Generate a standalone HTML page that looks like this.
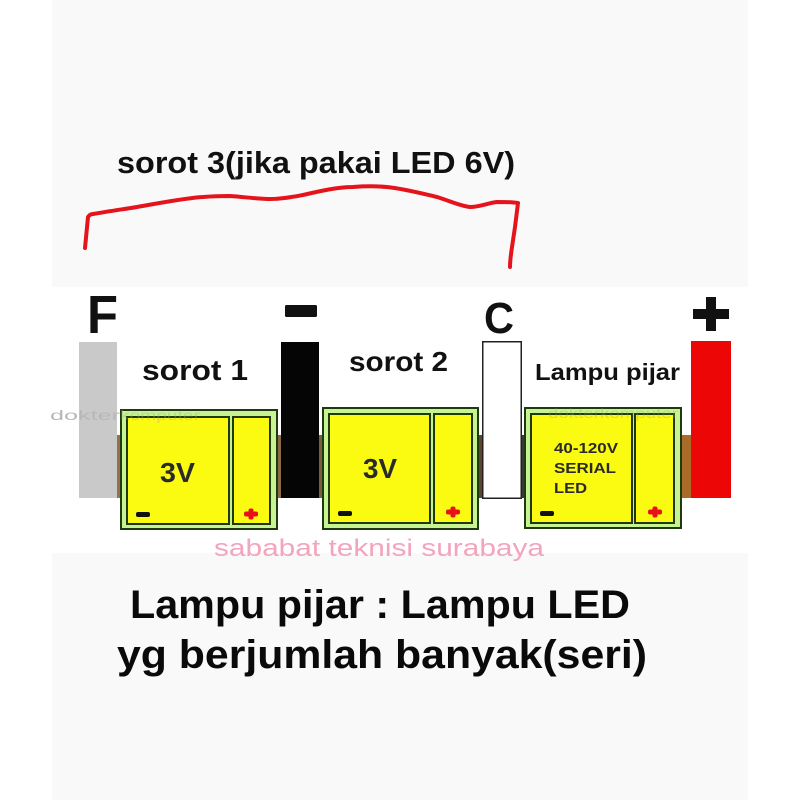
<!DOCTYPE html>
<html>
<head>
<meta charset="utf-8">
<style>
  html, body { margin: 0; padding: 0; background: #ffffff; }
  body { width: 800px; height: 800px; overflow: hidden; }
  svg { display: block; }
  text { font-family: "Liberation Sans", Arial, sans-serif; }
</style>
</head>
<body>
<svg width="800" height="800" viewBox="0 0 800 800" xmlns="http://www.w3.org/2000/svg">
  <!-- backgrounds -->
  <rect x="0" y="0" width="800" height="800" fill="#ffffff"/>
  <rect x="52" y="0" width="696" height="800" fill="#f9f9f9"/>
  <rect x="52" y="287" width="696" height="266" fill="#ffffff"/>

  <!-- top caption -->
  <text x="117" y="173" font-size="31" font-weight="bold" fill="#111" textLength="398" lengthAdjust="spacingAndGlyphs">sorot 3(jika pakai LED 6V)</text>

  <!-- red hand-drawn bracket -->
  <path d="M85,248 L88,217 Q90,214 93,214 C110,211 125,209 137,207 C160,203 185,198 203,197 C215,196 222,196 230,196 C245,197 258,199 270,199 C282,199 292,197 303,195 C320,191 338,187 353,187 C366,186 376,186 387,187 C405,189 420,193 437,197 C450,201 460,206 470,207 C480,207 488,203 497,202 C505,202 512,202 518,203 C517,211 516,219 515,227 C514,234 513,240 512,247 C511,254 510,260 510,267" fill="none" stroke="#e5141c" stroke-width="4" stroke-linecap="round" stroke-linejoin="round"/>

  <!-- terminal labels -->
  <text x="87" y="333" font-size="54" font-weight="bold" fill="#111" textLength="31" lengthAdjust="spacingAndGlyphs">F</text>
  <rect x="285" y="305" width="32" height="12" rx="1.5" fill="#111"/>
  <text x="484" y="333" font-size="44" font-weight="bold" fill="#111" textLength="30" lengthAdjust="spacingAndGlyphs">C</text>
  <rect x="693" y="309" width="36" height="10" fill="#111"/>
  <rect x="706" y="297" width="10" height="34" fill="#111"/>

  <!-- connectors -->
  <rect x="115" y="435" width="7" height="63" fill="#94714a"/>
  <rect x="276" y="435" width="6" height="63" fill="#8a6a45"/>
  <rect x="318" y="435" width="6" height="63" fill="#7a5f40"/>
  <rect x="477" y="435" width="6" height="63" fill="#5c4632"/>
  <rect x="521" y="435" width="5" height="63" fill="#3a3a3a"/>
  <rect x="680" y="435" width="12" height="63" fill="#aa6a28"/>

  <!-- bars -->
  <rect x="79" y="342" width="38" height="156" fill="#c9c9c9"/>
  <rect x="281" y="342" width="38" height="156" fill="#050505"/>
  <rect x="482.75" y="341.75" width="38.5" height="156.5" fill="#ffffff" stroke="#222" stroke-width="1.5"/>
  <rect x="691" y="341" width="40" height="157" fill="#ec0606"/>

  <!-- Box 1 -->
  <rect x="121" y="410" width="156" height="119" fill="#c8f391" stroke="#1f3a10" stroke-width="2"/>
  <rect x="127" y="417" width="102" height="107" fill="#fbfb12" stroke="#1f3a10" stroke-width="2"/>
  <rect x="233" y="417" width="37" height="107" fill="#fbfb12" stroke="#1f3a10" stroke-width="2"/>
  <text x="160" y="482" font-size="28" font-weight="bold" fill="#2a2a2a" textLength="35" lengthAdjust="spacingAndGlyphs">3V</text>
  <rect x="136" y="512" width="14" height="5" rx="2" fill="#111"/>
  <rect x="244" y="511.5" width="14" height="5" rx="2" fill="#e8101a"/>
  <rect x="248.5" y="508.5" width="5" height="11" rx="2" fill="#e8101a"/>

  <!-- Box 2 -->
  <rect x="323" y="408" width="155" height="121" fill="#c8f391" stroke="#1f3a10" stroke-width="2"/>
  <rect x="329" y="414" width="101" height="109" fill="#fbfb12" stroke="#1f3a10" stroke-width="2"/>
  <rect x="434" y="414" width="38" height="109" fill="#fbfb12" stroke="#1f3a10" stroke-width="2"/>
  <text x="363" y="478" font-size="28" font-weight="bold" fill="#2a2a2a" textLength="34" lengthAdjust="spacingAndGlyphs">3V</text>
  <rect x="338" y="511" width="14" height="5" rx="2" fill="#111"/>
  <rect x="446" y="509.5" width="14" height="5" rx="2" fill="#e8101a"/>
  <rect x="450.5" y="506.5" width="5" height="11" rx="2" fill="#e8101a"/>

  <!-- Box 3 -->
  <rect x="525" y="408" width="156" height="120" fill="#c8f391" stroke="#1f3a10" stroke-width="2"/>
  <rect x="531" y="414" width="101" height="109" fill="#fbfb12" stroke="#1f3a10" stroke-width="2"/>
  <rect x="635" y="414" width="39" height="109" fill="#fbfb12" stroke="#1f3a10" stroke-width="2"/>
  <text x="554" y="453" font-size="15" font-weight="bold" fill="#2a2a2a" textLength="64" lengthAdjust="spacingAndGlyphs">40-120V</text>
  <text x="554" y="473" font-size="15" font-weight="bold" fill="#2a2a2a" textLength="62" lengthAdjust="spacingAndGlyphs">SERIAL</text>
  <text x="554" y="493" font-size="15" font-weight="bold" fill="#2a2a2a" textLength="33" lengthAdjust="spacingAndGlyphs">LED</text>
  <rect x="540" y="511" width="14" height="5" rx="2" fill="#111"/>
  <rect x="648" y="509.5" width="14" height="5" rx="2" fill="#e8101a"/>
  <rect x="652.5" y="506.5" width="5" height="11" rx="2" fill="#e8101a"/>

  <!-- watermarks -->
  <text x="50" y="420" font-size="14" fill="#b8b8b8" textLength="70" lengthAdjust="spacingAndGlyphs">dokter</text>
  <text x="120" y="420" font-size="14" fill="#9aa88a" fill-opacity="0.35" textLength="80" lengthAdjust="spacingAndGlyphs">komputer</text>
  <text x="548" y="418" font-size="14" fill="#9a9a60" fill-opacity="0.3" textLength="130" lengthAdjust="spacingAndGlyphs">dokterkomputer</text>

  <!-- section labels -->
  <text x="142" y="380" font-size="29" font-weight="bold" fill="#111" textLength="106" lengthAdjust="spacingAndGlyphs">sorot 1</text>
  <text x="349" y="371" font-size="28" font-weight="bold" fill="#111" textLength="99" lengthAdjust="spacingAndGlyphs">sorot 2</text>
  <text x="535" y="380" font-size="23" font-weight="bold" fill="#111" textLength="145" lengthAdjust="spacingAndGlyphs">Lampu pijar</text>

  <!-- pink watermark -->
  <text x="214" y="556" font-size="24" fill="#f2a5bc" textLength="330" lengthAdjust="spacingAndGlyphs">sababat teknisi surabaya</text>

  <!-- bottom caption -->
  <text x="130" y="618" font-size="40" font-weight="bold" fill="#0a0a0a" textLength="500" lengthAdjust="spacingAndGlyphs">Lampu pijar : Lampu LED</text>
  <text x="117" y="668" font-size="40" font-weight="bold" fill="#0a0a0a" textLength="530" lengthAdjust="spacingAndGlyphs">yg berjumlah banyak(seri)</text>
</svg>
</body>
</html>
